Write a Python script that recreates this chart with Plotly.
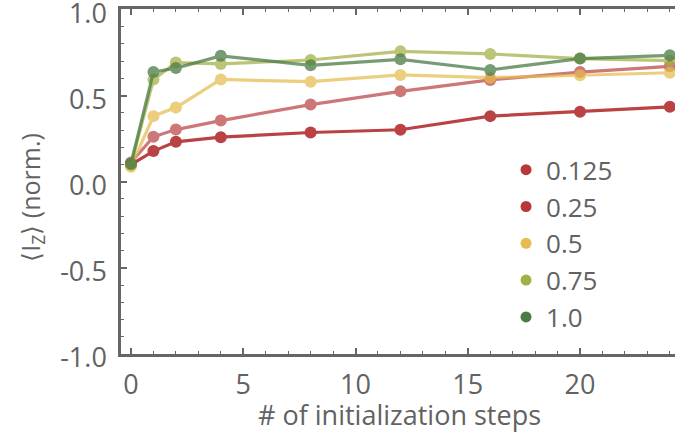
import plotly.graph_objects as go

# Number of initialization steps
steps = [0, 1, 2, 4, 8, 12, 16, 20, 24]

# Normalized <I_Z> for each parameter value
series_names = ["0.125", "0.25", "0.5", "0.75", "1.0"]
iz_0125 = [0.100, 0.178, 0.232, 0.259, 0.286, 0.302, 0.381, 0.406, 0.435]
iz_025 = [0.112, 0.261, 0.303, 0.355, 0.448, 0.525, 0.591, 0.637, 0.670]
iz_05 = [0.087, 0.381, 0.431, 0.594, 0.581, 0.620, 0.604, 0.618, 0.633]
iz_075 = [0.100, 0.593, 0.692, 0.684, 0.707, 0.757, 0.742, 0.715, 0.703]
iz_10 = [0.105, 0.637, 0.660, 0.731, 0.676, 0.711, 0.649, 0.715, 0.734]
series_values = [iz_0125, iz_025, iz_05, iz_075, iz_10]

colors = ["#B8383A", "#B8383A", "#E6BC4E", "#A3B043", "#4A7C45"]
opacities = [0.95, 0.68, 0.72, 0.72, 0.75]

x_ticks = [0, 5, 10, 15, 20]
y_ticks = [-1.0, -0.5, 0.0, 0.5, 1.0]
y_tick_text = ["-1.0", "-0.5", "0.0", "0.5", "1.0"]

FONT = "Open Sans"
GRAY = "#666666"
TEXT = "#626262"

fig = go.Figure()

for name, vals, col, op in zip(series_names, series_values, colors, opacities):
    fig.add_trace(go.Scatter(
        x=steps, y=vals, mode="lines+markers", name=name,
        line=dict(color=col, width=3.2),
        marker=dict(color=col, size=12),
        opacity=op, showlegend=False, cliponaxis=False,
    ))

# legend entries: plain dots
for name, col in zip(series_names, colors):
    fig.add_trace(go.Scatter(
        x=[None], y=[None], mode="markers", name=name,
        marker=dict(color=col, size=11),
        showlegend=True,
    ))

axis_common = dict(
    showline=True, linecolor=GRAY, linewidth=2.5,
    ticks="inside", tickcolor=GRAY, tickwidth=1.6, ticklen=6,
    showgrid=False, zeroline=False, ticklabeloverflow="allow",
    automargin=False,
    tickfont=dict(family=FONT, size=27, color=TEXT),
)

fig.update_xaxes(
    range=[-0.445, 24.23], tickvals=x_ticks, mirror="allticks",
    minor=dict(dtick=1, ticks="inside", ticklen=3.5, tickcolor=GRAY, tickwidth=1.4),
    ticklabelstandoff=5,
    **axis_common,
)
fig.update_yaxes(
    range=[-1.0, 1.003], tickvals=y_ticks, ticktext=y_tick_text, mirror=False,
    minor=dict(dtick=0.1, ticks="inside", ticklen=3.5, tickcolor=GRAY, tickwidth=1.4),
    ticklabelstandoff=6, ticklabelshift=4,
    **axis_common,
)

# axis titles
fig.add_annotation(
    text="# of initialization steps",
    xref="paper", yref="paper", x=0.503, y=-0.175,
    xanchor="center", yanchor="middle", showarrow=False,
    font=dict(family=FONT, size=27, color=TEXT),
)
fig.add_annotation(
    text="⟨I<sub>Z</sub>⟩ (norm.)", textangle=-90,
    xref="paper", yref="paper", x=-0.163, y=0.455,
    xanchor="center", yanchor="middle", showarrow=False,
    font=dict(family=FONT, size=25, color=TEXT),
)

fig.update_layout(
    width=675, height=447,
    margin=dict(l=121, r=0, t=9, b=93, autoexpand=False),
    paper_bgcolor="white", plot_bgcolor="white",
    showlegend=True,
    legend=dict(
        x=0.695, y=0.602, xanchor="left", yanchor="top",
        font=dict(family=FONT, size=26, color=TEXT),
        bgcolor="rgba(0,0,0,0)", itemsizing="trace", tracegroupgap=0,
    ),
)

fig.write_html("out.html")
